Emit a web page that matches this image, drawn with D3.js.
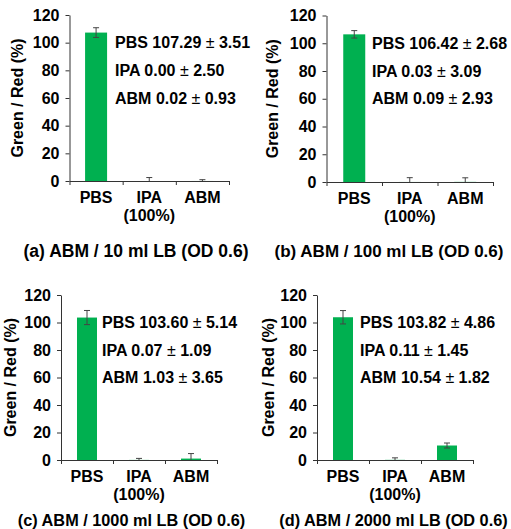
<!DOCTYPE html>
<html>
<head>
<meta charset="utf-8">
<script src="https://cdn.jsdelivr.net/npm/d3@7"></script>
<style>
  body { margin: 0; background: #fff; }
  svg { display: block; font-family: Arial, "Liberation Sans", sans-serif; }
  .axis path, .axis line { stroke: #333; }
  .axis text { font-size: 16px; font-weight: bold; fill: #000; font-family: Arial, "Liberation Sans", sans-serif; }
</style>
</head>
<body>
<script>
// data
const titles = ["(a) ABM / 10 ml LB (OD 0.6)", "(b) ABM / 100 ml LB (OD 0.6)",
                "(c) ABM / 1000 ml LB (OD 0.6)", "(d) ABM / 2000 ml LB (OD 0.6)"];
const categories = ["PBS", "IPA", "ABM"];
const subLabels = ["", "(100%)", ""];
const means = [[107.29, 0.00, 0.02], [106.42, 0.03, 0.09], [103.60, 0.07, 1.03], [103.82, 0.11, 10.54]];
const sds = [[3.51, 2.50, 0.93], [2.68, 3.09, 2.93], [5.14, 1.09, 3.65], [4.86, 1.45, 1.82]];
const yTicks = [0, 20, 40, 60, 80, 100, 120];
const yLabel = "Green / Red (%)";

// panel placement
const layout = [
  {left: 69.5, right: 229, top: 15, bottom: 181, labelX: 17, textX: 115, titleX: 136, titleY: 257, titleSize: 17.5, barW: 22},
  {left: 326.5, right: 493, top: 15.5, bottom: 182, labelX: 272, textX: 372, titleX: 389, titleY: 257, titleSize: 17, barW: 22},
  {left: 61, right: 217, top: 295, bottom: 460, labelX: 10, textX: 102, titleX: 131.5, titleY: 526, titleSize: 16.3, barW: 20},
  {left: 317, right: 473, top: 295, bottom: 460, labelX: 268, textX: 360, titleX: 393.5, titleY: 526, titleSize: 16.3, barW: 20}
];

const svg = d3.select('body').append('svg')
  .attr('width', 511)
  .attr('height', 529);

layout.forEach((L, p) => {
  let g = svg.append('g');
  let step = (L.right - L.left) / categories.length;
  let pad = 1 - L.barW / step;

  let y = d3.scaleLinear().domain([0, 120]).range([L.bottom, L.top]);
  let x = d3.scaleBand().domain(categories).range([L.left, L.right])
            .paddingInner(pad).paddingOuter(pad / 2);
  let edges = d3.scaleLinear().domain([0, categories.length]).range([L.left, L.right]);

  let rows = categories.map((c, i) => ({cat: c, sub: subLabels[i], m: means[p][i], sd: sds[p][i]}));

  g.selectAll('rect.bar')
    .data(rows)
    .enter()
    .append('rect')
    .attr('class', 'bar')
    .attr('x', (d) => x(d.cat))
    .attr('width', x.bandwidth())
    .attr('y', (d) => y(d.m))
    .attr('height', (d) => y(0) - y(d.m))
    .attr('fill', '#00b050');

  // error bars (only the part above the axis is visible)
  let eb = g.selectAll('g.err')
    .data(rows)
    .enter()
    .append('g')
    .attr('class', 'err')
    .attr('stroke', '#444')
    .attr('stroke-width', 1);
  eb.append('line')
    .attr('x1', (d) => x(d.cat) + x.bandwidth() / 2)
    .attr('x2', (d) => x(d.cat) + x.bandwidth() / 2)
    .attr('y1', (d) => y(Math.max(0, d.m - d.sd)))
    .attr('y2', (d) => y(d.m + d.sd));
  eb.append('line')
    .attr('x1', (d) => x(d.cat) + x.bandwidth() / 2 - 3)
    .attr('x2', (d) => x(d.cat) + x.bandwidth() / 2 + 3)
    .attr('y1', (d) => y(d.m + d.sd))
    .attr('y2', (d) => y(d.m + d.sd));
  eb.filter((d) => d.m - d.sd > 0).append('line')
    .attr('x1', (d) => x(d.cat) + x.bandwidth() / 2 - 3)
    .attr('x2', (d) => x(d.cat) + x.bandwidth() / 2 + 3)
    .attr('y1', (d) => y(d.m - d.sd))
    .attr('y2', (d) => y(d.m - d.sd));

  g.append('g')
    .attr('class', 'axis')
    .attr('transform', 'translate(' + L.left + ',0)')
    .call(d3.axisLeft(y).tickValues(yTicks).tickSize(4).tickSizeOuter(0).tickPadding(6));

  g.append('g')
    .attr('class', 'axis')
    .attr('transform', 'translate(0,' + L.bottom + ')')
    .call(d3.axisBottom(edges).tickValues(d3.range(categories.length + 1))
            .tickSize(4).tickSizeOuter(0).tickFormat(''));

  // category labels, second line under IPA
  let cat = g.selectAll('text.cat')
    .data(rows)
    .enter()
    .append('text')
    .attr('class', 'cat')
    .attr('text-anchor', 'middle')
    .style('font-size', '16px')
    .style('font-weight', 'bold');
  cat.append('tspan')
    .attr('x', (d) => x(d.cat) + x.bandwidth() / 2)
    .attr('y', L.bottom + 22)
    .text((d) => d.cat);
  cat.filter((d) => d.sub).append('tspan')
    .attr('x', (d) => x(d.cat) + x.bandwidth() / 2)
    .attr('y', L.bottom + 40)
    .text((d) => d.sub);

  g.append('text')
    .attr('text-anchor', 'middle')
    .attr('dominant-baseline', 'central')
    .attr('transform', 'translate(' + L.labelX + ',' + ((L.top + L.bottom) / 2) + ')rotate(-90)')
    .style('font-size', '16px')
    .style('font-weight', 'bold')
    .text(yLabel);

  // mean ± sd notes, one per tick line 100 / 80 / 60
  let notes = g.selectAll('text.note')
    .data(rows)
    .enter()
    .append('text')
    .attr('class', 'note')
    .attr('x', L.textX)
    .attr('y', (d, i) => y(100 - 20 * i))
    .attr('dy', '0.35em')
    .style('font-size', '16px')
    .style('font-weight', 'bold');
  notes.append('tspan').text((d) => d.cat + ' ' + d.m.toFixed(2) + ' ');
  notes.append('tspan').style('font-weight', 'normal').text('±');
  notes.append('tspan').text((d) => ' ' + d.sd.toFixed(2));

  g.append('text')
    .attr('x', L.titleX)
    .attr('y', L.titleY)
    .attr('text-anchor', 'middle')
    .style('font-size', L.titleSize + 'px')
    .style('font-weight', 'bold')
    .text(titles[p]);
});
</script>
</body>
</html>
